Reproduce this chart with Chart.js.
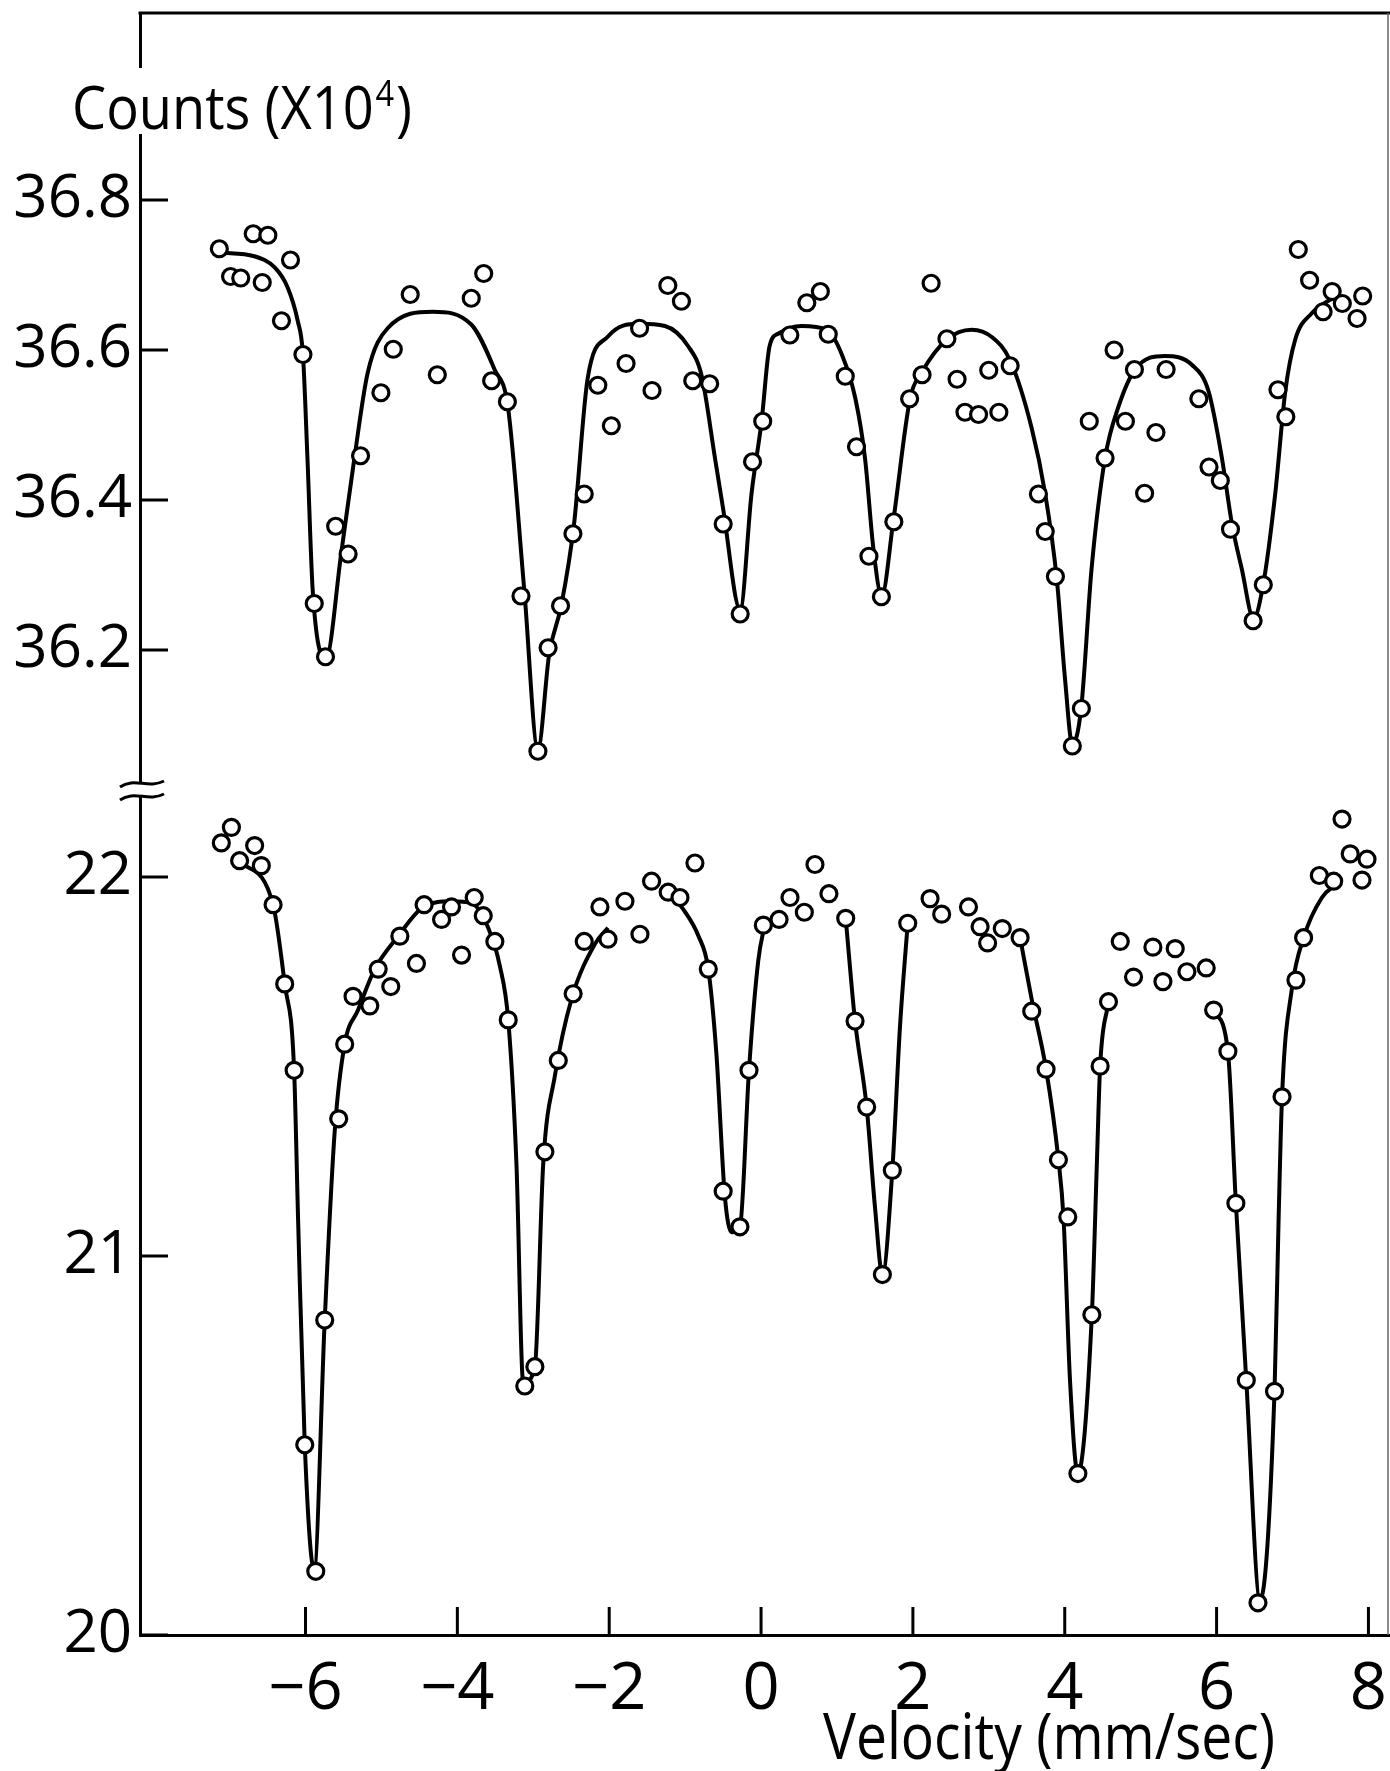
<!DOCTYPE html>
<html>
<head>
<meta charset="utf-8">
<title>Counts vs Velocity</title>
<script src="https://cdn.jsdelivr.net/npm/chart.js@4.4.1/dist/chart.umd.min.js"></script>
<style>
  html, body { margin: 0; padding: 0; background: #fff; }
  #wrap { width: 1390px; height: 1771px; }
</style>
</head>
<body>
<div id="wrap"><canvas id="myChart" width="1390" height="1771"></canvas></div>
<script>
// upper spectrum, counts in units of 10^4
const upperVel = [-7.135, -6.987, -6.853, -6.689, -6.496, -6.570, -6.317, -6.198, -6.034, -5.885,
  -5.737, -5.603, -5.439, -5.275, -5.007, -4.844, -4.621, -4.264, -3.817, -3.653,
  -3.549, -3.341, -3.162, -2.939, -2.805, -2.641, -2.478, -2.329, -2.150, -1.972,
  -1.778, -1.600, -1.436, -1.228, -1.049, -0.900, -0.677, -0.499, -0.275, -0.112,
  0.022, 0.379, 0.603, 0.781, 0.885, 1.109, 1.257, 1.421, 1.585, 1.749,
  1.957, 2.121, 2.240, 2.448, 2.582, 2.686, 2.865, 2.999, 3.132, 3.281,
  3.653, 3.743, 3.877, 4.100, 4.219, 4.323, 4.531, 4.650, 4.799, 4.918,
  5.052, 5.201, 5.335, 5.766, 5.900, 6.049, 6.183, 6.481, 6.615, 6.808,
  6.912, 7.076, 7.225, 7.403, 7.522, 7.656, 7.850, 7.924];
const upperCounts = [36.735, 36.698, 36.696, 36.755, 36.753, 36.690, 36.639, 36.720, 36.594, 36.262,
  36.191, 36.365, 36.328, 36.459, 36.543, 36.601, 36.674, 36.567, 36.669, 36.702,
  36.559, 36.531, 36.272, 36.065, 36.203, 36.259, 36.355, 36.408, 36.553, 36.499,
  36.582, 36.629, 36.546, 36.686, 36.665, 36.559, 36.555, 36.368, 36.248, 36.451,
  36.505, 36.620, 36.663, 36.678, 36.621, 36.565, 36.471, 36.325, 36.271, 36.371,
  36.535, 36.567, 36.689, 36.615, 36.561, 36.517, 36.514, 36.573, 36.517, 36.579,
  36.408, 36.358, 36.298, 36.072, 36.122, 36.505, 36.456, 36.600, 36.505, 36.574,
  36.409, 36.490, 36.574, 36.535, 36.444, 36.426, 36.361, 36.239, 36.287, 36.547,
  36.511, 36.734, 36.693, 36.651, 36.678, 36.662, 36.642, 36.672];

// fitted curve through the upper spectrum
const upperFitVel = [-7.135, -6.674, -6.406, -6.234, -6.103, -6.034, -5.975, -5.905, -5.729, -5.531,
  -5.356, -5.180, -4.918, -4.323, -3.817, -3.510, -3.335, -3.118, -2.939, -2.790,
  -2.632, -2.463, -2.284, -2.016, -1.615, -1.266, -0.960, -0.781, -0.607, -0.499,
  -0.275, -0.126, 0.007, 0.112, 0.231, 0.534, 0.865, 1.064, 1.243, 1.369,
  1.481, 1.589, 1.743, 1.963, 2.116, 2.448, 2.775, 3.043, 3.281, 3.564,
  3.743, 3.896, 4.004, 4.100, 4.216, 4.353, 4.531, 4.710, 4.927, 5.320,
  5.677, 5.894, 6.070, 6.202, 6.332, 6.487, 6.615, 6.772, 6.905, 7.036,
  7.254, 7.478, 7.607];
const upperFitCounts = [36.730, 36.725, 36.710, 36.683, 36.639, 36.594, 36.457, 36.279, 36.190, 36.328,
  36.456, 36.570, 36.629, 36.651, 36.634, 36.574, 36.525, 36.279, 36.068, 36.195,
  36.259, 36.368, 36.562, 36.618, 36.635, 36.632, 36.605, 36.565, 36.456, 36.388,
  36.254, 36.408, 36.505, 36.605, 36.622, 36.632, 36.627, 36.594, 36.535, 36.456,
  36.334, 36.272, 36.373, 36.535, 36.570, 36.614, 36.627, 36.617, 36.586, 36.496,
  36.408, 36.294, 36.161, 36.074, 36.122, 36.308, 36.456, 36.525, 36.574, 36.592,
  36.580, 36.545, 36.456, 36.368, 36.308, 36.242, 36.288, 36.408, 36.545, 36.614,
  36.649, 36.666, 36.671];

// lower spectrum
const lowerVel = [-7.109, -6.976, -6.868, -6.670, -6.582, -6.427, -6.274, -6.150, -6.010, -5.865,
  -5.747, -5.563, -5.484, -5.374, -5.153, -5.043, -4.877, -4.757, -4.539, -4.438,
  -4.208, -4.077, -3.945, -3.778, -3.659, -3.506, -3.330, -3.112, -2.979, -2.847,
  -2.671, -2.475, -2.329, -2.122, -2.016, -1.793, -1.595, -1.442, -1.223, -1.068,
  -0.871, -0.695, -0.499, -0.278, -0.159, 0.030, 0.237, 0.381, 0.570, 0.710,
  0.894, 1.115, 1.238, 1.391, 1.598, 1.729, 1.932, 2.226, 2.379, 2.732,
  2.885, 2.984, 3.177, 3.412, 3.565, 3.754, 3.917, 4.040, 4.173, 4.357,
  4.466, 4.576, 4.731, 4.906, 5.161, 5.293, 5.455, 5.609, 5.863, 5.961,
  6.149, 6.254, 6.391, 6.545, 6.763, 6.862, 7.045, 7.146, 7.353, 7.542,
  7.652, 7.760, 7.981, 7.915];
const lowerCounts = [22.090, 22.131, 22.043, 22.083, 22.030, 21.927, 21.718, 21.490, 20.502, 20.168,
  20.831, 21.362, 21.559, 21.685, 21.660, 21.757, 21.711, 21.844, 21.772, 21.927,
  21.888, 21.921, 21.794, 21.946, 21.898, 21.830, 21.623, 20.657, 20.708, 21.275,
  21.516, 21.692, 21.830, 21.921, 21.836, 21.936, 21.849, 21.989, 21.960, 21.946,
  22.037, 21.757, 21.171, 21.077, 21.490, 21.873, 21.888, 21.946, 21.907, 22.033,
  21.956, 21.891, 21.620, 21.393, 20.951, 21.226, 21.878, 21.943, 21.902, 21.921,
  21.869, 21.826, 21.864, 21.840, 21.646, 21.493, 21.254, 21.103, 20.426, 20.845,
  21.501, 21.671, 21.830, 21.736, 21.815, 21.724, 21.811, 21.750, 21.760, 21.649,
  21.540, 21.139, 20.672, 20.085, 20.643, 21.420, 21.728, 21.840, 22.004, 21.989,
  22.153, 22.061, 22.047, 21.992];

// fitted curve through the lower spectrum, null = the curve is not drawn there
const lowerFitVel = [-6.868, -6.427, -6.274, -6.150, -6.098, -6.010, -5.887, -5.747, -5.615, -5.484,
  -5.308, -5.088, -4.780, -4.472, -4.077, -3.814, -3.594, -3.440, -3.330, -3.222,
  -3.132, -2.979, -2.869, -2.716, -2.496, -2.189, -2.016, null,
  -1.223, -1.004, -0.826, -0.695, -0.588, -0.476, -0.388, -0.278, -0.159, -0.037, 0.052, null,
  1.115, 1.238, 1.391, 1.501, 1.598, 1.729, 1.830, 1.932, null,
  3.412, 3.564, 3.754, 3.917, 3.984, 4.071, 4.173, 4.357, 4.423, 4.466, 4.576, null,
  5.961, 6.149, 6.254, 6.391, 6.574, 6.763, 6.817, 6.862, 6.993, 7.146, 7.388, 7.585];
const lowerFitCounts = [22.043, 21.927, 21.718, 21.490, 21.099, 20.502, 20.173, 20.831, 21.330, 21.559,
  21.649, 21.757, 21.844, 21.917, 21.936, 21.931, 21.866, 21.765, 21.623, 21.244,
  20.665, 20.708, 21.244, 21.475, 21.678, 21.823, 21.866, null,
  21.960, 21.909, 21.845, 21.757, 21.533, 21.156, 21.063, 21.077, 21.490, 21.779, 21.878, null,
  21.891, 21.620, 21.393, 21.128, 20.951, 21.226, 21.605, 21.878, null,
  21.840, 21.678, 21.493, 21.254, 21.100, 20.665, 20.426, 20.845, 21.244, 21.501, 21.671, null,
  21.649, 21.540, 21.139, 20.672, 20.092, 20.643, 21.099, 21.420, 21.707, 21.840, 21.946, 21.982];

const upperTicks = [36.2, 36.4, 36.6, 36.8];
const lowerTicks = [20, 21, 22];
const velTicks = [-6, -4, -2, 0, 2, 4, 6, 8];

const FONT = '"Open Sans", sans-serif';

function pairs(xs, ys) {
  return xs.map((x, i) => ({ x: x, y: ys[i] }));
}

// inward ticks, axis break, frame line and the two axis titles
const decor = {
  id: 'decor',
  afterDraw(chart) {
    const { ctx, chartArea: a, scales } = chart;
    const xs = scales.x, yu = scales.yUp, yl = scales.yLow;
    ctx.save();
    ctx.strokeStyle = '#000';
    ctx.lineWidth = 3;

    // frame line along the top
    ctx.beginPath();
    ctx.moveTo(a.left - 1.5, a.top);
    ctx.lineTo(chart.width, a.top);
    ctx.stroke();

    // faint right edge of the frame
    ctx.lineWidth = 1.5;
    ctx.strokeStyle = '#666';
    ctx.beginPath();
    ctx.moveTo(chart.width - 2, a.top);
    ctx.lineTo(chart.width - 2, a.bottom);
    ctx.stroke();

    ctx.strokeStyle = '#000';
    ctx.lineWidth = 3;
    ctx.beginPath();
    [yu, yl].forEach(s => s.ticks.forEach(t => {
      const y = s.getPixelForValue(t.value);
      ctx.moveTo(a.left, y);
      ctx.lineTo(a.left + 28, y);
    }));
    xs.ticks.forEach(t => {
      const x = xs.getPixelForValue(t.value);
      ctx.moveTo(x, a.bottom);
      ctx.lineTo(x, a.bottom - 28);
    });
    ctx.stroke();

    // break mark between the two count scales
    const yb = yu.bottom;
    ctx.fillStyle = '#fff';
    ctx.fillRect(a.left - 5, yb - 6, 10, 12);
    ctx.beginPath();
    [-6, 7].forEach(d => {
      const y = yb + d;
      ctx.moveTo(a.left - 20, y + 3);
      ctx.bezierCurveTo(a.left - 6, y - 7, a.left + 8, y + 5, a.left + 24, y - 3);
    });
    ctx.stroke();

    // y title, it interrupts the axis line
    ctx.fillStyle = '#fff';
    ctx.fillRect(a.left - 5, 68, 10, 66);
    ctx.fillStyle = '#000';
    ctx.textAlign = 'left';
    ctx.textBaseline = 'alphabetic';
    ctx.font = '60px ' + FONT;
    const main = 'Counts (X10';
    const wMain = ctx.measureText(main).width;
    const wClose = ctx.measureText(')').width;
    ctx.font = '36px ' + FONT;
    const wSup = ctx.measureText('4').width + 4;
    const sy = 340 / (wMain + wSup + wClose);
    ctx.save();
    ctx.translate(72, 129);
    ctx.scale(sy, 1);
    ctx.font = '60px ' + FONT;
    ctx.fillText(main, 0, 0);
    ctx.fillText(')', wMain + wSup, 0);
    ctx.font = '36px ' + FONT;
    ctx.fillText('4', wMain + 2, -23);
    ctx.restore();

    // x title
    const xt = 'Velocity (mm/sec)';
    ctx.font = '64px ' + FONT;
    const sx = 452 / ctx.measureText(xt).width;
    ctx.save();
    ctx.translate(823, 1759);
    ctx.scale(sx, 1);
    ctx.fillText(xt, 0, 0);
    ctx.restore();

    ctx.restore();
  }
};

Chart.defaults.font.family = FONT;
Chart.defaults.color = '#000';

const pointStyle = {
  showLine: false,
  pointRadius: 8,
  pointBorderWidth: 3.2,
  pointBackgroundColor: '#fff',
  pointBorderColor: '#000',
  order: 0
};
const curveStyle = {
  showLine: true,
  pointRadius: 0,
  pointHitRadius: 0,
  borderColor: '#000',
  borderWidth: 4,
  cubicInterpolationMode: 'monotone',
  spanGaps: false,
  fill: false,
  order: 1
};

const ctx = document.getElementById('myChart').getContext('2d');
const myChart = new Chart(ctx, {
  type: 'scatter',
  data: {
    datasets: [
      Object.assign({ label: 'upper', data: pairs(upperVel, upperCounts), yAxisID: 'yUp' }, pointStyle),
      Object.assign({ label: 'lower', data: pairs(lowerVel, lowerCounts), yAxisID: 'yLow' }, pointStyle),
      Object.assign({ label: 'upper fit', data: pairs(upperFitVel, upperFitCounts), yAxisID: 'yUp' }, curveStyle),
      Object.assign({ label: 'lower fit', data: pairs(lowerFitVel, lowerFitCounts), yAxisID: 'yLow' }, curveStyle)
    ]
  },
  options: {
    responsive: false,
    animation: false,
    devicePixelRatio: 1,
    layout: { autoPadding: false, padding: { top: 13, left: 0, right: 0, bottom: 0 } },
    plugins: { legend: { display: false }, tooltip: { enabled: false } },
    scales: {
      x: {
        type: 'linear',
        position: 'bottom',
        min: -8.18,
        max: 8.284,
        afterBuildTicks: s => { s.ticks = velTicks.map(v => ({ value: v })); },
        afterFit: s => { s.height = 136; s.paddingLeft = 0; s.paddingRight = 0; },
        grid: { display: false },
        border: { display: true, color: '#000', width: 3 },
        ticks: {
          autoSkip: false,
          maxRotation: 0,
          padding: 15,
          font: { size: 65, lineHeight: 1 },
          callback: v => v < 0 ? '\u2212' + Math.abs(v) : String(v)
        }
      },
      yUp: {
        type: 'linear',
        position: 'left',
        stack: 'counts',
        stackWeight: 777,
        weight: 2,
        min: 36.0133,
        max: 37.0493,
        afterBuildTicks: s => { s.ticks = upperTicks.map(v => ({ value: v })); },
        afterFit: s => { s.width = 140; s.paddingTop = 0; s.paddingBottom = 0; },
        grid: { display: false, drawTicks: false },
        border: { display: true, color: '#000', width: 3 },
        ticks: { padding: 8, font: { size: 60, lineHeight: 1 }, callback: v => v.toFixed(1) }
      },
      yLow: {
        type: 'linear',
        position: 'left',
        stack: 'counts',
        stackWeight: 845,
        weight: 1,
        min: 20,
        max: 22.2296,
        afterBuildTicks: s => { s.ticks = lowerTicks.map(v => ({ value: v })); },
        afterFit: s => { s.width = 140; s.paddingTop = 0; s.paddingBottom = 0; },
        grid: { display: false, drawTicks: false },
        border: { display: true, color: '#000', width: 3 },
        ticks: { padding: 8, font: { size: 60, lineHeight: 1 }, callback: v => String(v) }
      }
    }
  },
  plugins: [decor]
});
</script>
</body>
</html>
